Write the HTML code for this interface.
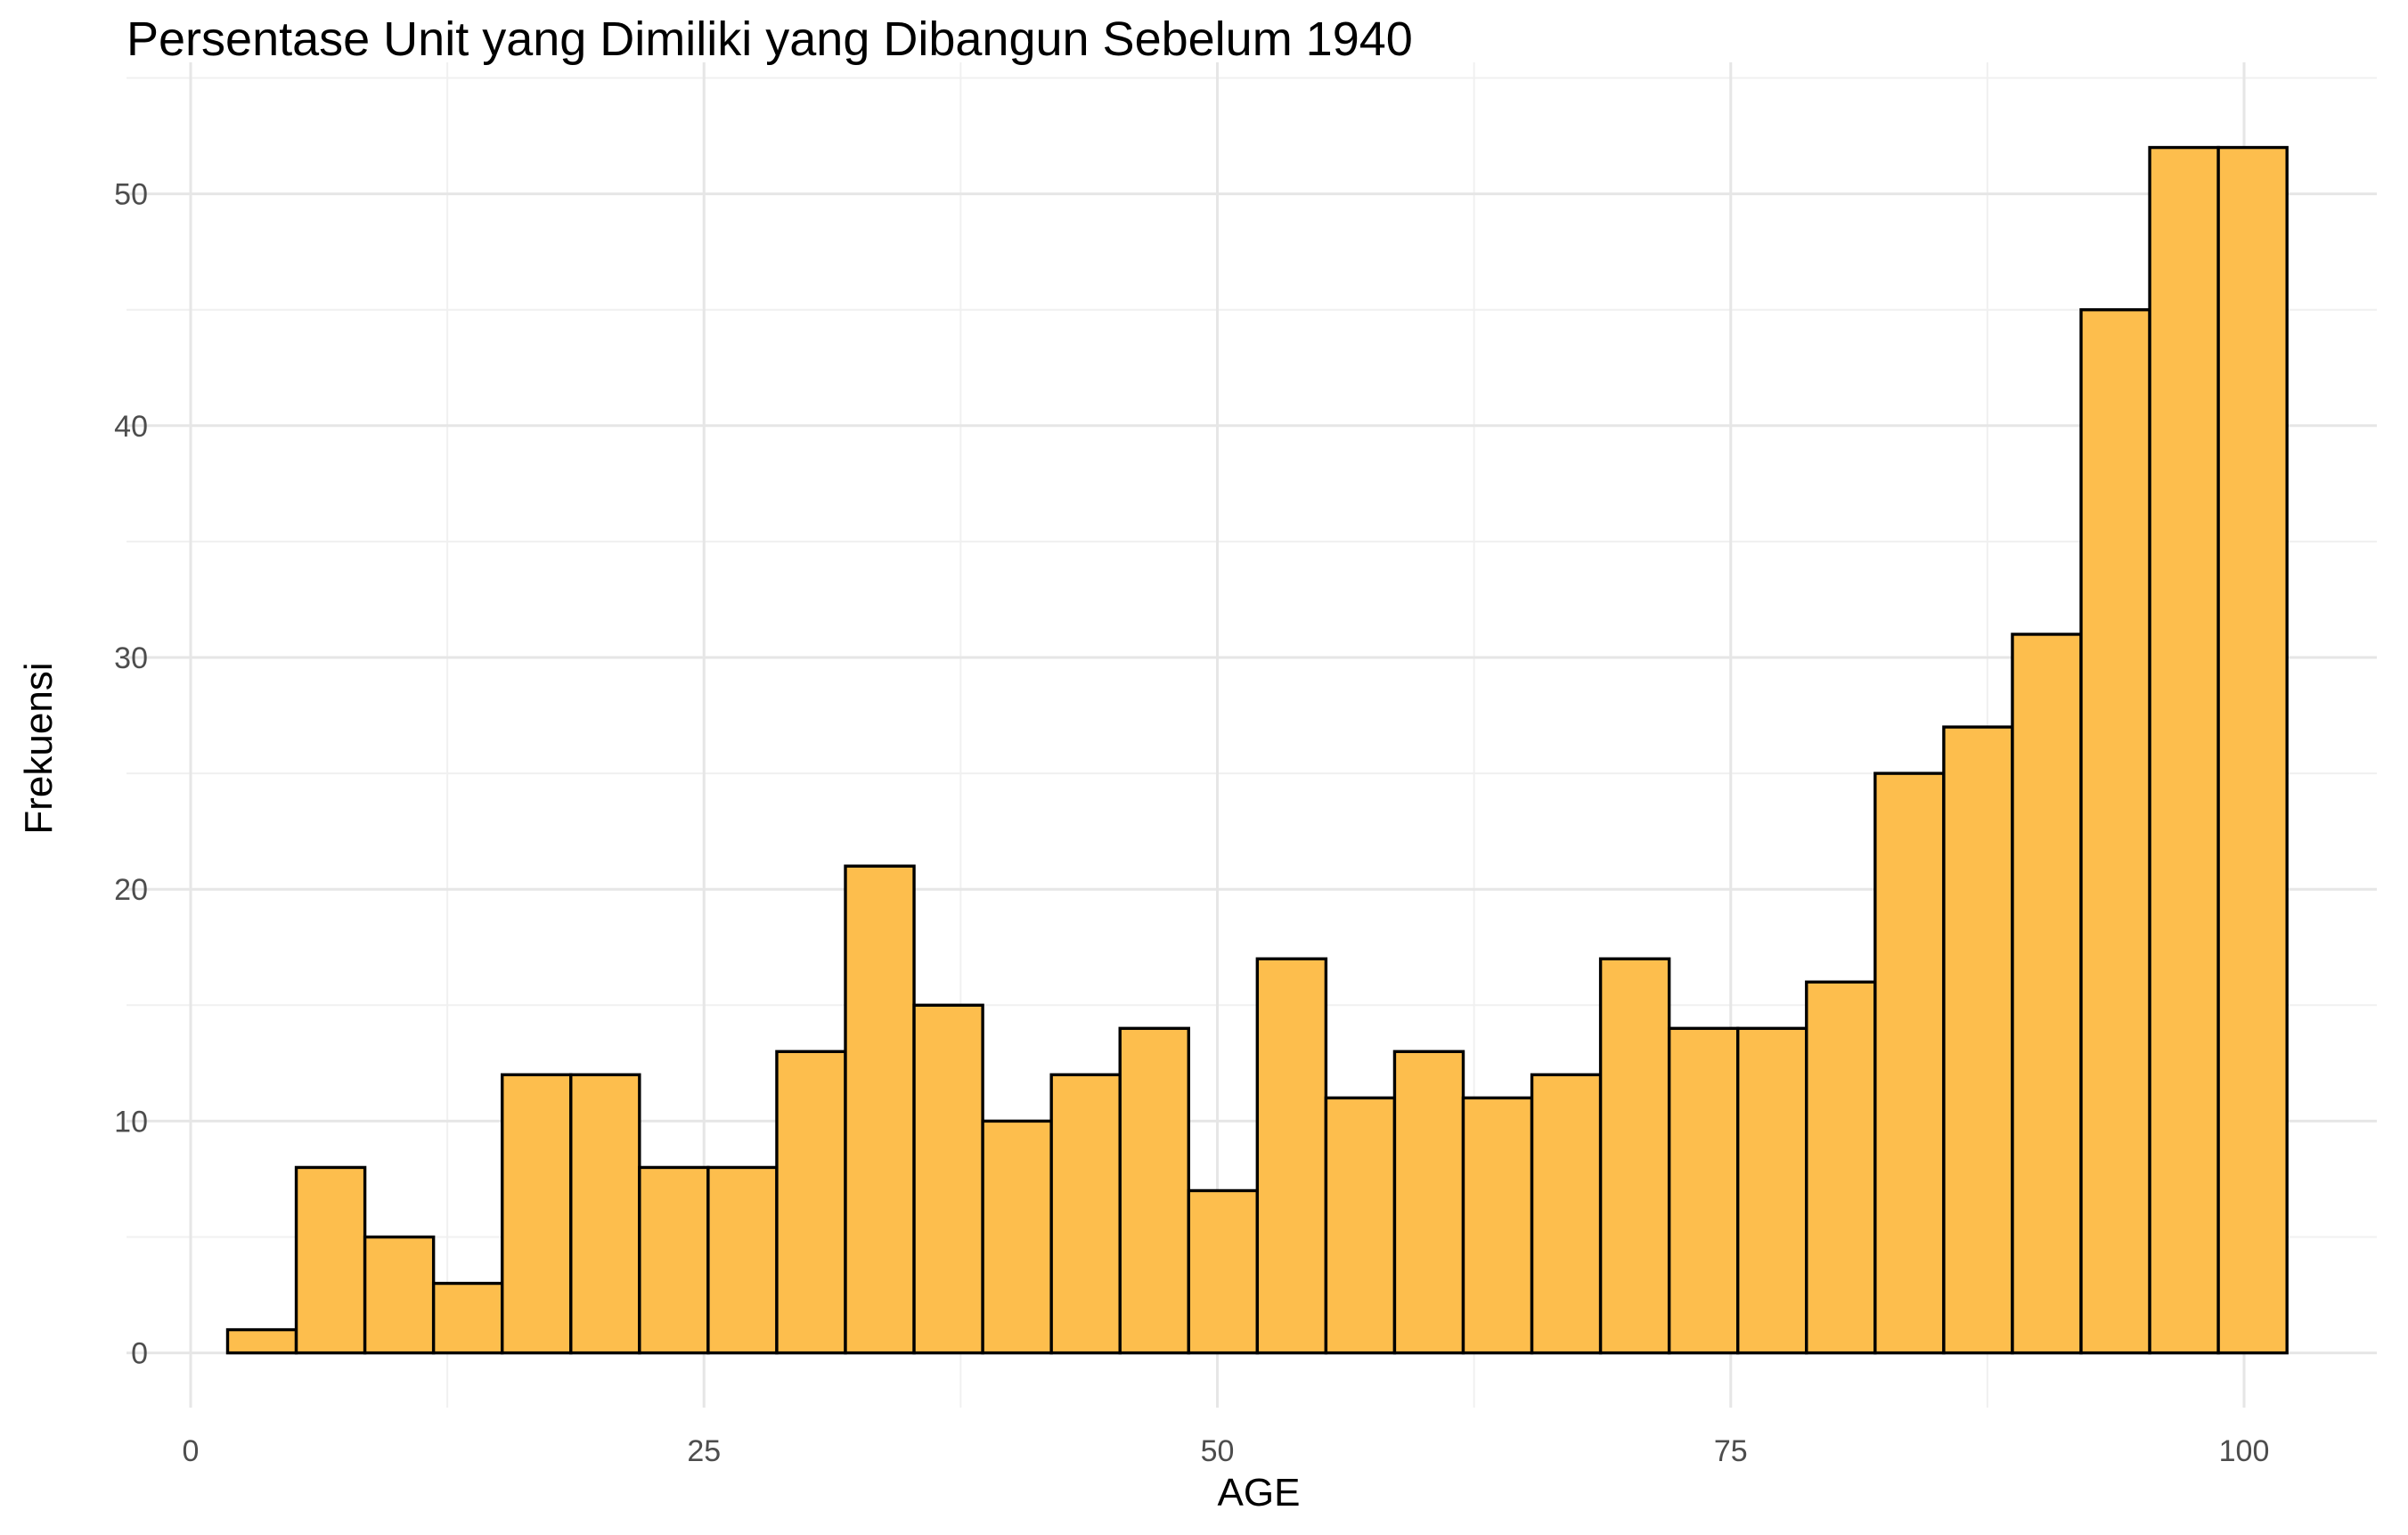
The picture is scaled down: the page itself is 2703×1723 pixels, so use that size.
<!DOCTYPE html>
<html><head><meta charset="utf-8"><style>
body{margin:0;background:#fff}
svg text{font-family:"Liberation Sans",sans-serif}
</style></head><body>
<svg id="c" width="2703" height="1718" xmlns="http://www.w3.org/2000/svg">
<text x="142" y="62" font-size="54" fill="#000">Persentase Unit yang Dimiliki yang Dibangun Sebelum 1940</text>
<g id="grid"></g><g id="bars"></g><g id="ticks"></g>
<text x="1413" y="1690" font-size="44" text-anchor="middle" fill="#000">AGE</text>
<text transform="translate(58,840) rotate(-90)" font-size="44" text-anchor="middle" fill="#000">Frekuensi</text>
</svg>
<script>
const counts=[1,8,5,3,12,12,8,8,13,21,15,10,12,14,7,17,11,13,11,12,17,14,14,16,25,27,31,45,52,52];
const binStart=1.8;
const binWidth=3.343;
const xTicks=[0,25,50,75,100];
const yTicks=[0,10,20,30,40,50];
const X=v=>214+v*23.05;
const Y=v=>1518.6-v*26.02;
const ns="http://www.w3.org/2000/svg";
function mk(t,a,p){const e=document.createElementNS(ns,t);for(const k in a)e.setAttribute(k,a[k]);p.appendChild(e);return e;}
const grid=document.getElementById('grid'),bars=document.getElementById('bars'),ticks=document.getElementById('ticks');
const L=142,R=2668,T=70,B=1580;
for(let v=5;v<=55;v+=10){const l=mk('line',{x1:L,x2:R,y1:Y(v),y2:Y(v),stroke:'#f0f0f0','stroke-width':2},grid);

}
for(let v=12.5;v<=112.5;v+=25){if(X(v)>R)break;const l=mk('line',{x1:X(v),x2:X(v),y1:T,y2:B,stroke:'#f0f0f0','stroke-width':2},grid);

}
yTicks.forEach(v=>{const l=mk('line',{x1:L,x2:R,y1:Y(v),y2:Y(v),stroke:'#e6e6e6','stroke-width':3},grid);


const t=mk('text',{x:166,y:Y(v)+12,'font-size':34,fill:'#4d4d4d','text-anchor':'end'},ticks);t.textContent=v;

});
xTicks.forEach(v=>{const l=mk('line',{x1:X(v),x2:X(v),y1:T,y2:B,stroke:'#e6e6e6','stroke-width':3},grid);


const t=mk('text',{x:X(v),y:1640,'font-size':34,fill:'#4d4d4d','text-anchor':'middle'},ticks);t.textContent=v;

});
counts.forEach((c,i)=>{const x0=X(binStart+i*binWidth),x1=X(binStart+(i+1)*binWidth);
const r=mk('rect',{x:x0,y:Y(c),width:x1-x0,height:Y(0)-Y(c),fill:'#fdbe4d',stroke:'#000','stroke-width':3.4},bars);

});
</script>
</body></html>
